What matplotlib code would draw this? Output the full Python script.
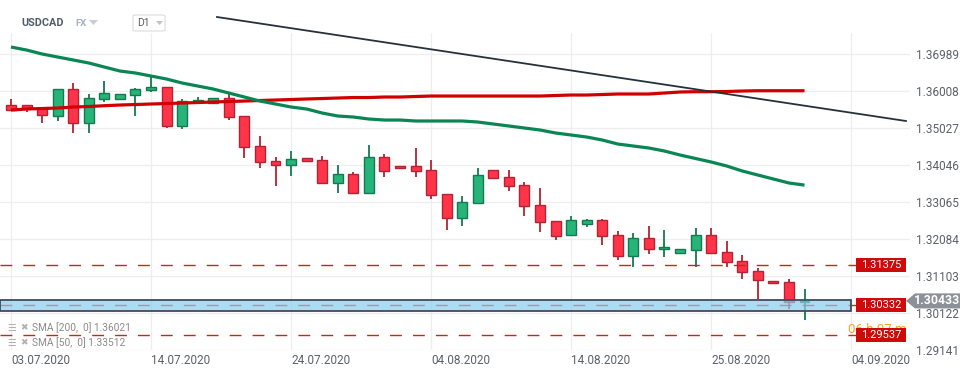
import numpy as np
import matplotlib
matplotlib.use("Agg")
import matplotlib.pyplot as plt
from matplotlib.patches import Rectangle, Polygon, FancyBboxPatch
from matplotlib.transforms import blended_transform_factory

plt.rcParams['font.family'] = ['Roboto', 'DejaVu Sans']

# ---- data (USDCAD, D1, one candle per trading day incl. Sunday) ----
opens = [1.35641, 1.35641, 1.35561, 1.35349, 1.36066, 1.35163, 1.35801, 1.35801, 1.35907, 1.36040,
         1.36120, 1.35083, 1.35721, 1.35694, 1.35827, 1.35349, 1.34551, 1.34152, 1.34046, 1.34232,
         1.34179, 1.33568, 1.33807, 1.33302, 1.34259, 1.34020, 1.34020, 1.33913, 1.33275, 1.32637,
         1.33036, 1.33913, 1.33727, 1.33514, 1.32983, 1.32557, 1.32185, 1.32478, 1.32584, 1.32185,
         1.31627, 1.32105, 1.31813, 1.31707, 1.31786, 1.32185, 1.31733, 1.31494, 1.31228, 1.30962,
         1.30936, 1.30404]
highs = [1.35801, 1.35641, 1.35561, 1.36066, 1.36226, 1.35934, 1.36279, 1.35934, 1.36093, 1.36439,
         1.36120, 1.35801, 1.35854, 1.35827, 1.35934, 1.35349, 1.34817, 1.34259, 1.34418, 1.34232,
         1.34285, 1.34046, 1.33860, 1.34578, 1.34339, 1.34020, 1.34498, 1.34179, 1.33275, 1.33222,
         1.33966, 1.33913, 1.33913, 1.33594, 1.33435, 1.32557, 1.32690, 1.32610, 1.32610, 1.32291,
         1.32238, 1.32424, 1.32318, 1.31813, 1.32371, 1.32371, 1.32026, 1.31653, 1.31308, 1.30962,
         1.31015, 1.30750]
lows = [1.35508, 1.35455, 1.35163, 1.35216, 1.34897, 1.34897, 1.35721, 1.35801, 1.35349, 1.35987,
        1.35030, 1.35003, 1.35668, 1.35694, 1.35242, 1.34232, 1.33966, 1.33488, 1.33754, 1.34152,
        1.33541, 1.33302, 1.33302, 1.33302, 1.33727, 1.33966, 1.33727, 1.33142, 1.32318, 1.32424,
        1.33036, 1.33700, 1.33355, 1.32690, 1.32265, 1.32052, 1.32185, 1.32398, 1.31919, 1.31521,
        1.31334, 1.31680, 1.31600, 1.31707, 1.31334, 1.31707, 1.31334, 1.31015, 1.30484, 1.30909,
        1.30218, 1.29925]
closes = [1.35508, 1.35561, 1.35375, 1.36066, 1.35163, 1.35827, 1.35960, 1.35934, 1.36066, 1.36120,
          1.35083, 1.35747, 1.35774, 1.35827, 1.35322, 1.34525, 1.34126, 1.34046, 1.34206, 1.34152,
          1.33568, 1.33807, 1.33302, 1.34259, 1.33887, 1.33966, 1.33887, 1.33249, 1.32637, 1.33062,
          1.33780, 1.33700, 1.33488, 1.32956, 1.32531, 1.32159, 1.32584, 1.32584, 1.32159, 1.31627,
          1.32105, 1.31813, 1.31866, 1.31813, 1.32185, 1.31707, 1.31467, 1.31202, 1.30989, 1.30909,
          1.30404, 1.30433]

sma200 = [1.35508, 1.35535, 1.35548, 1.35561, 1.35588, 1.35601, 1.35623, 1.35641, 1.35654, 1.35668,
          1.35681, 1.35694, 1.35707, 1.35721, 1.35734, 1.35747, 1.35761, 1.35774, 1.35787, 1.35801,
          1.35814, 1.35827, 1.35840, 1.35840, 1.35854, 1.35854, 1.35867, 1.35880, 1.35880, 1.35880,
          1.35880, 1.35880, 1.35880, 1.35880, 1.35880, 1.35894, 1.35907, 1.35907, 1.35920, 1.35934,
          1.35934, 1.35934, 1.35960, 1.35987, 1.35995, 1.35995, 1.36000, 1.36013, 1.36021, 1.36021,
          1.36021, 1.36021]
sma50 = [1.37183, 1.37103, 1.36997, 1.36917, 1.36838, 1.36758, 1.36651, 1.36545, 1.36492, 1.36412,
         1.36332, 1.36226, 1.36146, 1.36066, 1.35960, 1.35854, 1.35747, 1.35668, 1.35588, 1.35535,
         1.35428, 1.35349, 1.35322, 1.35269, 1.35242, 1.35242, 1.35216, 1.35216, 1.35216, 1.35216,
         1.35189, 1.35136, 1.35083, 1.35030, 1.34977, 1.34897, 1.34844, 1.34790, 1.34711, 1.34604,
         1.34551, 1.34498, 1.34418, 1.34312, 1.34219, 1.34126, 1.34020, 1.33887, 1.33780, 1.33674,
         1.33568, 1.33512]

trend_x = [13.24, 57.52]
trend_y = [1.37981, 1.35216]

date_pos = [0, 9, 18, 27, 36, 45, 54]
date_labels = ["03.07.2020", "14.07.2020", "24.07.2020", "04.08.2020",
               "14.08.2020", "25.08.2020", "04.09.2020"]
price_ticks = [1.36989, 1.36008, 1.35027, 1.34046, 1.33065, 1.32084, 1.31103, 1.30122, 1.29141]
levels = [1.31375, 1.30332, 1.29537]
zone_low, zone_high = 1.30165, 1.30457
last_price = 1.30433

# ---- figure ----
fig = plt.figure(figsize=(9.74, 3.75), dpi=100)
ax = fig.add_axes([0, 25 / 375, 910 / 974, 350 / 375])
ax.set_xlim(-0.707, 57.78)
ax.set_ylim(1.29128, 1.38433)
for s in ax.spines.values():
    s.set_visible(False)

GRID = '#eeeeee'
ax.set_axisbelow(True)
ax.yaxis.tick_right()
ax.set_yticks(price_ticks, [f'{v:.5f}' for v in price_ticks])
ax.tick_params(axis='y', length=0, pad=4, labelsize=8.5, labelcolor='#5b6168')
ax.grid(axis='y', color=GRID, lw=0.9)
ax.set_xticks(date_pos, date_labels)
for lbl in ax.get_xticklabels():
    lbl.set_ha('left')
ax.tick_params(axis='x', length=0, pad=3, labelsize=8.5, labelcolor='#5b6168')
ax.vlines(date_pos, 1.29128, 1.37555, colors=GRID, lw=0.9, zorder=0)

# candles
x = np.arange(len(opens))
o = np.array(opens); c = np.array(closes)
up = c >= o
fills = np.where(up, '#26b479', '#ff3449')
edges = np.where(up, '#137a50', '#b52232')
ax.vlines(x, lows, highs, colors=edges, lw=1.3, zorder=2)
ax.bar(x, np.maximum(np.abs(c - o), 0.00012), bottom=np.minimum(o, c), width=0.64,
       color=fills, edgecolor=edges, linewidth=1.0, zorder=3)

# moving averages and trendline
ax.plot(x, sma200, color='#d00000', lw=2.3, zorder=4, solid_capstyle='butt')
ax.plot(x, sma50, color='#0a8655', lw=2.3, zorder=4, solid_capstyle='butt')
ax.plot(trend_x, trend_y, color='#27313b', lw=1.3, zorder=6, clip_on=False)

# horizontal levels
ax.hlines(levels, -0.707, 54.3, colors='#d21f1f', lw=1.0,
          linestyles=[(0, (8.5, 8))], zorder=4.5)

# support zone
ax.add_patch(Rectangle((-0.707, zone_low), 54.0 + 0.707, zone_high - zone_low,
                       fc=(0.55, 0.80, 0.93, 0.7), ec='#3e4d5a', lw=1.3, zorder=5))

blend = blended_transform_factory(ax.transAxes, ax.transData)

# countdown text (partly hidden by level label)
ax.text(848 / 910, 1.29660, '06 h 07 m', transform=blend, color='#f5a623',
        fontsize=9.5, ha='left', va='center', zorder=7, clip_on=False)

# level labels
for lv in levels:
    ax.add_patch(Rectangle((856 / 910, lv - 0.00186), 50 / 910, 0.00372, transform=blend,
                           fc='#cf0a0a', ec='none', zorder=8, clip_on=False))
    ax.text(881 / 910, lv, f'{lv:.5f}', transform=blend, color='white', fontsize=8,
            ha='center', va='center', zorder=9, clip_on=False)

# last price tag
hh = 0.002
ax.add_patch(Polygon([(906 / 910, last_price), (915 / 910, last_price + hh),
                      (960 / 910, last_price + hh), (960 / 910, last_price - hh),
                      (915 / 910, last_price - hh)], closed=True, transform=blend,
                     fc='#8b9197', ec='none', zorder=8, clip_on=False))
ax.text(937 / 910, last_price, f'{last_price:.5f}', transform=blend, color='white',
        fontsize=8.8, fontweight='bold', ha='center', va='center', zorder=9, clip_on=False)

# header
W, H = 974, 375
fig.text(21 / W, 1 - 23 / H, 'USDCAD', fontsize=7.8, fontweight='bold', color='#4f5b66',
         va='center')
fig.text(75 / W, 1 - 23 / H, 'FX', fontsize=6.8, fontweight='bold', color='#a3b1c2',
         va='center')
fig.add_artist(Polygon([(89 / W, 1 - 20 / H), (98 / W, 1 - 20 / H), (93.5 / W, 1 - 25 / H)],
                       transform=fig.transFigure, fc='#c8ced6', ec='none'))
fig.add_artist(FancyBboxPatch((133 / W, 1 - 31 / H), 32 / W, 16 / H,
                              boxstyle='round,pad=0,rounding_size=0.003',
                              transform=fig.transFigure, fc='white', ec='#dcdcdc', lw=0.8))
fig.text(137 / W, 1 - 23 / H, 'D1', fontsize=7.5, color='#5a5a5a', va='center')
fig.add_artist(Polygon([(156 / W, 1 - 21 / H), (163 / W, 1 - 21 / H), (159.5 / W, 1 - 25 / H)],
                       transform=fig.transFigure, fc='#c4c4c4', ec='none'))

# indicator legend
for yy, txt in [(328, 'SMA [200,  0] 1.36021'), (343, 'SMA [50,  0] 1.33512')]:
    fig.text(7 / W, 1 - yy / H, '☰', fontsize=7, color='#b0b0b0', va='center', zorder=10)
    fig.text(20 / W, 1 - yy / H, '✖', fontsize=6.5, color='#b0b0b0', va='center', zorder=10)
    fig.text(32 / W, 1 - yy / H, txt, fontsize=7.3, color='#8a8a8a', va='center', zorder=10)

fig.savefig('out.png', dpi=100)
